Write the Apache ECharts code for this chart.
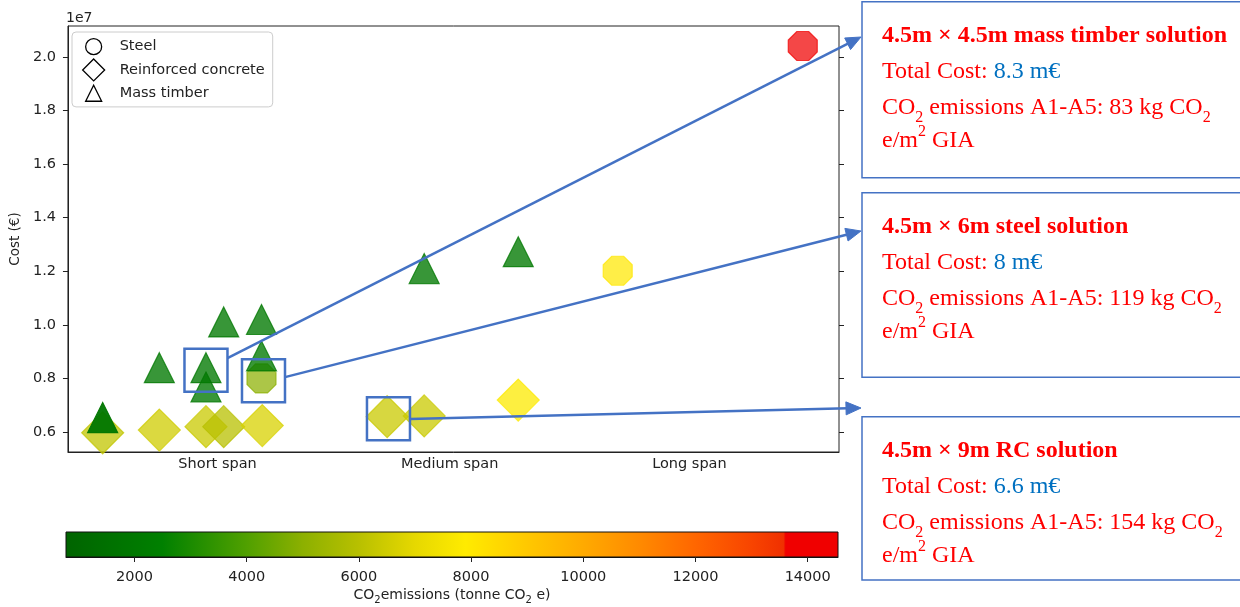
<!DOCTYPE html>
<html><head><meta charset="utf-8">
<script src="https://cdn.jsdelivr.net/npm/echarts@6/dist/echarts.min.js"></script>
<style>html,body{margin:0;padding:0;background:#fff}#c{width:1240px;height:607px}</style>
</head><body><div id="c"></div>
<script>
// ---------------- data ----------------
const spanTickPos = [19.4, 49.5, 80.6];
const spanTickLabels = ['Short span', 'Medium span', 'Long span'];
const costTicks = [6e6, 8e6, 1e7, 1.2e7, 1.4e7, 1.6e7, 1.8e7, 2e7];
const co2Ticks = [2000, 4000, 6000, 8000, 10000, 12000, 14000];

const steelX    = [25.1, 71.3, 95.3];
const steelCost = [8.0e6, 1.202e7, 2.041e7];
const steelCO2  = [5000, 8000, 14000];

const rcX    = [4.5, 11.85, 17.9, 20.2, 25.2, 41.4, 46.2, 58.4];
const rcCost = [5.97e6, 6.07e6, 6.2e6, 6.2e6, 6.24e6, 6.57e6, 6.6e6, 7.19e6];
const rcCO2  = [6200, 6500, 6400, 6000, 6700, 6400, 6400, 7800];

const timberX    = [4.5, 11.85, 17.9, 17.9, 20.2, 25.1, 25.1, 46.2, 58.4];
const timberCost = [6.54e6, 8.4e6, 8.4e6, 7.68e6, 1.011e7, 1.02e7, 8.84e6, 1.21e7, 1.273e7];
const timberCO2  = [1900, 2000, 2000, 2000, 2000, 2000, 2000, 2000, 2000];

const annoTitles = ['4.5m \u00d7 4.5m mass timber solution', '4.5m \u00d7 6m steel solution', '4.5m \u00d7 9m RC solution'];
const annoCosts  = ['8.3 m\u20ac', '8 m\u20ac', '6.6 m\u20ac'];
const annoCO2    = ['83', '119', '154'];

// colour map (value stops) for CO2 emissions
const cmapMin = 780, cmapMax = 14540;
const cmapStops = [[780,'#006400'],[2500,'#008000'],[4000,'#50a000'],[5000,'#8cb000'],[6000,'#b8c000'],
  [7000,'#e6d800'],[7900,'#ffeb00'],[9000,'#ffc800'],[10000,'#ffaa00'],[11000,'#ff8a00'],
  [12000,'#ff6600'],[13000,'#f84400'],[13560,'#f03000'],[13600,'#f00000'],[14540,'#f00000']];

function hex2rgb(h){return [parseInt(h.substr(1,2),16),parseInt(h.substr(3,2),16),parseInt(h.substr(5,2),16)];}
function cmap(v){
  if (v <= cmapStops[0][0]) return cmapStops[0][1];
  for (let i = 1; i < cmapStops.length; i++) {
    if (v <= cmapStops[i][0]) {
      const [v0,c0] = cmapStops[i-1], [v1,c1] = cmapStops[i];
      const t = (v - v0) / (v1 - v0), a = hex2rgb(c0), b = hex2rgb(c1);
      return 'rgb(' + a.map((x,k)=>Math.round(x + (b[k]-x)*t)).join(',') + ')';
    }
  }
  return cmapStops[cmapStops.length-1][1];
}

const FONT = 'DejaVu Sans';
const TXT = '#222';
const octagon = 'path://M29.3,0L70.7,0L100,29.3L100,70.7L70.7,100L29.3,100L0,70.7L0,29.3Z';

function pts(xs, ys, cs, extra){
  return xs.map((x,i)=>({value:[x, ys[i], cs[i]],
    itemStyle:Object.assign({color:cmap(cs[i]), borderColor:cmap(cs[i])}, (extra && extra[i]) || {})}));
}

const option = {
  animation: false,
  grid: [
    {left:65, top:26, width:774, height:426, show:true, borderColor:'#222', borderWidth:1, backgroundColor:'transparent'},
    {left:66, top:532, width:772, height:25, show:true, borderColor:'#111', borderWidth:1,
     backgroundColor:{type:'linear', x:0, y:0, x2:1, y2:0,
       colorStops: cmapStops.map(([v,c])=>({offset:(v-cmapMin)/(cmapMax-cmapMin), color:c}))}}
  ],
  xAxis: [
    {gridIndex:0, type:'value', min:0, max:100, splitLine:{show:false},
     axisLine:{show:true, lineStyle:{color:'#222', width:1}},
     axisTick:{show:false},
     axisLabel:{customValues:spanTickPos, margin:5, fontSize:14.5, fontFamily:FONT, color:TXT,
       formatter:(v)=>{let b=0;spanTickPos.forEach((p,i)=>{if(Math.abs(p-v)<Math.abs(spanTickPos[b]-v))b=i;});return spanTickLabels[b];}}},
    {gridIndex:1, type:'value', min:cmapMin, max:cmapMax, splitLine:{show:false},
     axisLine:{show:true, lineStyle:{color:'#111', width:1}},
     axisTick:{show:true, customValues:co2Ticks, length:5, lineStyle:{color:'#222'}},
     axisLabel:{customValues:co2Ticks, margin:13, fontSize:14.5, fontFamily:FONT, color:TXT,
       formatter:(v)=>String(Math.round(v))},
     name:'{a|CO}{b|2}{a|emissions (tonne CO}{b|2}{a| e)}', nameLocation:'middle', nameGap:28,
     nameTextStyle:{rich:{
       a:{fontSize:14, fontFamily:FONT, color:TXT, lineHeight:20},
       b:{fontSize:10, fontFamily:FONT, color:TXT, lineHeight:10, verticalAlign:'bottom'}}}}
  ],
  yAxis: [
    {gridIndex:0, type:'value', min:5.253e6, max:2.1157e7, splitLine:{show:false},
     axisLine:{show:true, lineStyle:{color:'#222', width:1}},
     axisTick:{show:true, customValues:costTicks, length:5, lineStyle:{color:'#222'}},
     axisLabel:{customValues:costTicks, margin:12, fontSize:14.5, fontFamily:FONT, color:TXT,
       formatter:(v)=>(v/1e7).toFixed(1)},
     name:'Cost (\u20ac)', nameLocation:'middle', nameGap:39,
     nameTextStyle:{fontSize:13.5, fontFamily:FONT, color:TXT}},
    {gridIndex:1, type:'value', show:false},
    {gridIndex:0, type:'value', position:'right', min:5.253e6, max:2.1157e7, splitLine:{show:false},
     axisLine:{show:false},
     axisTick:{show:true, customValues:costTicks, length:5, lineStyle:{color:'#222'}},
     axisLabel:{show:false}}
  ],
  legend: {
    orient:'vertical', left:72, top:32, padding:[3,8,2,10], itemGap:0, itemWidth:22, itemHeight:22,
    backgroundColor:'#fff', borderColor:'#ccc', borderWidth:1, borderRadius:4, selectedMode:false,
    textStyle:{fontSize:14.5, fontFamily:FONT, color:TXT, padding:[0,0,0,10]},
    itemStyle:{color:'#fff', borderColor:'#000', borderWidth:1.3, opacity:1},
    data:[
      {name:'Steel', icon:'path://M0,0M22,22M19,11A8,8,0,1,1,3,11A8,8,0,1,1,19,11Z'},
      {name:'Reinforced concrete', icon:'path://M11,0L22,11L11,22L0,11Z'},
      {name:'Mass timber', icon:'path://M0,0M22,22M11,3L19,19L3,19Z'}
    ]
  },
  series: [
    {name:'Reinforced concrete', type:'scatter', xAxisIndex:0, yAxisIndex:0, symbol:'diamond', symbolSize:[42,42],
     itemStyle:{opacity:0.75, borderWidth:1.2}, emphasis:{disabled:true}, z:2,
     data:pts(rcX, rcCost, rcCO2)},
    {name:'Steel', type:'scatter', xAxisIndex:0, yAxisIndex:0, symbol:octagon, symbolSize:29,
     itemStyle:{opacity:0.72, borderWidth:1.2}, emphasis:{disabled:true}, z:3,
     data:pts(steelX, steelCost, steelCO2)},
    {name:'Mass timber', type:'scatter', xAxisIndex:0, yAxisIndex:0, symbol:'triangle', symbolSize:[30,30],
     itemStyle:{opacity:0.78, borderWidth:1.2}, emphasis:{disabled:true}, z:4,
     data:pts(timberX, timberCost, timberCO2, [{opacity:0.95}])}
  ]
};

const chart = echarts.init(document.getElementById('c'));
chart.setOption(option);

// ---------------- annotations ----------------
const BLUE = '#4472C4';
const annoPts = [
  [timberX[2], timberCost[2]],
  [steelX[0], steelCost[0]],
  [rcX[5], rcCost[5]]
];
const sqOffset = [[0,2.5],[2,2.4],[1.3,2]];
const startDy = [-12, -3.7, 0.3];
const tips = [[861,37],[861,231],[861,408]];
const boxTop = [1.7, 192.7, 416.7];
const boxH = [176, 184.6, 163.3];

const mctx = document.createElement('canvas').getContext('2d');
const els = [];
const SERIF = '"Liberation Serif", "Times New Roman", serif';

boxTop.forEach((t,i)=>{
  els.push({type:'rect', z:100, shape:{x:862, y:t, width:420, height:boxH[i]},
    style:{fill:'#fff', stroke:BLUE, lineWidth:1.5}});
});

annoPts.forEach((p,i)=>{
  const px = chart.convertToPixel({xAxisIndex:0, yAxisIndex:0}, p);
  const cx = px[0] + sqOffset[i][0], cy = px[1] + sqOffset[i][1];
  els.push({type:'rect', z:101, shape:{x:cx-21.5, y:cy-21.5, width:43, height:43},
    style:{fill:'none', stroke:BLUE, lineWidth:2.5}});
  const sx = cx + 21.5, sy = cy + startDy[i];
  const [tx, ty] = tips[i];
  const dx = tx - sx, dy = ty - sy, L = Math.sqrt(dx*dx+dy*dy), ux = dx/L, uy = dy/L;
  const hl = 15, hw = 6.5;
  const bx = tx - ux*hl, by = ty - uy*hl;
  els.push({type:'line', z:101, shape:{x1:sx, y1:sy, x2:bx+ux*2, y2:by+uy*2},
    style:{stroke:BLUE, lineWidth:2.5}});
  els.push({type:'polygon', z:101, shape:{points:[[tx,ty],[bx - uy*hw, by + ux*hw],[bx + uy*hw, by - ux*hw]]},
    style:{fill:BLUE, stroke:BLUE, lineWidth:1}});
});

function addLine(x, baseline, segs){
  let cx = x;
  segs.forEach(s=>{
    const size = s.size || 24;
    const font = (s.bold ? 'bold ' : '') + size + 'px ' + SERIF;
    mctx.font = font;
    const w = mctx.measureText(s.t).width;
    els.push({type:'text', z:102, style:{text:s.t, x:cx, y:baseline + (s.dy||0) - 0.3375*size, font:font,
      fill:s.c || '#ff0000', align:'left', verticalAlign:'middle', textAlign:'left', textVerticalAlign:'middle'}});
    cx += w;
  });
}
boxTop.forEach((t,i)=>{
  addLine(882, t+42, [{t:annoTitles[i], bold:true}]);
  addLine(882, t+78, [{t:'Total Cost: '}, {t:annoCosts[i], c:'#0070C0'}]);
  addLine(882, t+114.5, [{t:'CO'}, {t:'2', size:16, dy:7}, {t:' emissions A1-A5: ' + annoCO2[i] + ' kg CO'}, {t:'2', size:16, dy:7}]);
  addLine(882, t+147, [{t:'e/m'}, {t:'2', size:16, dy:-12}, {t:' GIA'}]);
});

els.push({type:'text', z:102, style:{text:'1e7', x:66, y:18, font:'14px "DejaVu Sans"', fill:TXT,
  align:'left', verticalAlign:'middle', textAlign:'left', textVerticalAlign:'middle'}});

chart.setOption({graphic:{elements:els}});
</script>
</body></html>
